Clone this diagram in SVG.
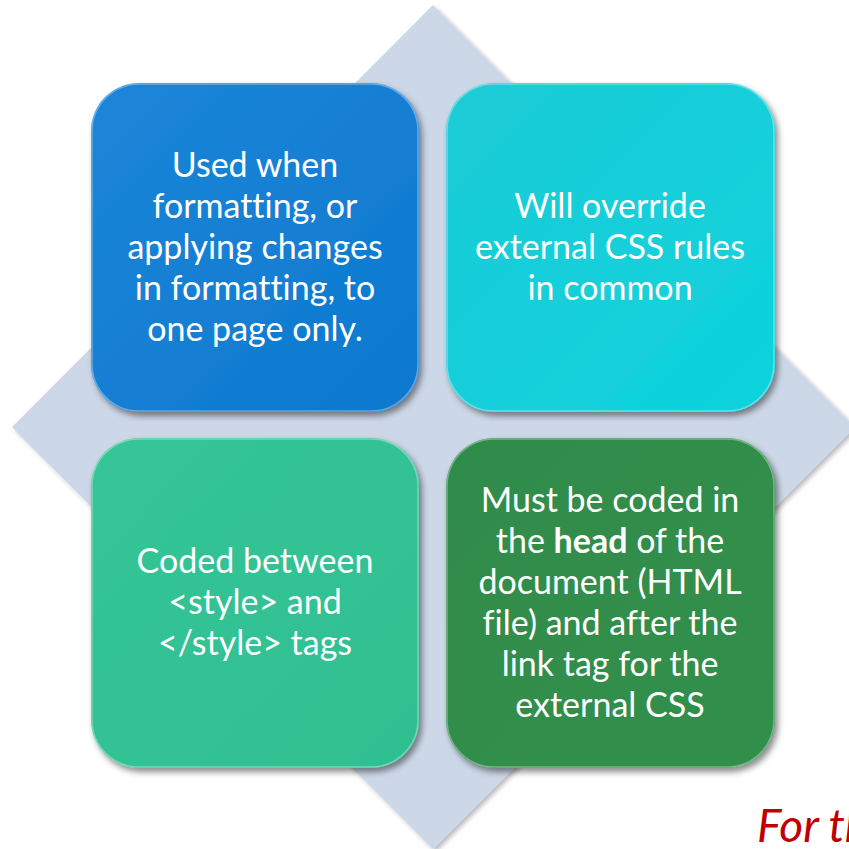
<svg xmlns="http://www.w3.org/2000/svg" width="849" height="849" viewBox="0 0 849 849">
<style>
.t{font-family:Lato,"Open Sans",sans-serif;font-size:34px;fill:#fff;text-anchor:middle;font-variant-ligatures:none}
.b{font-weight:bold}
.box{filter:url(#sh)}
.bev{fill:none;stroke:#ffffff;stroke-opacity:0.35;stroke-width:1.5}
</style>
<defs>
<filter id="sh" x="-10%" y="-10%" width="125%" height="125%">
<feDropShadow dx="3" dy="4" stdDeviation="3" flood-color="#000" flood-opacity="0.45"/>
</filter>
<filter id="dsh" x="-5%" y="-5%" width="110%" height="110%">
<feDropShadow dx="3" dy="3" stdDeviation="2" flood-color="#000" flood-opacity="0.25"/>
</filter>
<linearGradient id="g1" x1="0" y1="0" x2="1" y2="1"><stop offset="0" stop-color="#1d86d8"/><stop offset="1" stop-color="#0b78cf"/></linearGradient>
<linearGradient id="g2" x1="0" y1="0" x2="1" y2="1"><stop offset="0" stop-color="#1ccbd6"/><stop offset="1" stop-color="#0ed3dd"/></linearGradient>
<linearGradient id="g3" x1="0" y1="0" x2="1" y2="1"><stop offset="0" stop-color="#35c596"/><stop offset="1" stop-color="#2fbf90"/></linearGradient>
<linearGradient id="g4" x1="0" y1="0" x2="1" y2="1"><stop offset="0" stop-color="#2f8c4b"/><stop offset="1" stop-color="#338f4c"/></linearGradient>
</defs>
<rect width="849" height="849" fill="#ffffff"/>
<polygon points="433,5 855,427 433,849 12,427" fill="#ccd7e8" filter="url(#dsh)"/>
<g id="node-tl">
<rect class="box" x="91" y="83" width="328" height="329" rx="48" fill="url(#g1)"/>
<rect class="bev" x="92" y="84" width="326" height="327" rx="47"/>
<text class="t" x="255" y="177">Used when</text>
<text class="t" x="255" y="218">formatting, or</text>
<text class="t" x="255" y="259">applying changes</text>
<text class="t" x="255" y="300">in formatting, to</text>
<text class="t" x="255" y="341">one page only.</text>
</g>
<g id="node-tr">
<rect class="box" x="446" y="83" width="329" height="329" rx="48" fill="url(#g2)"/>
<rect class="bev" x="447" y="84" width="327" height="327" rx="47"/>
<text class="t" x="610" y="218">Will override</text>
<text class="t" x="610" y="259">external CSS rules</text>
<text class="t" x="610" y="300">in common</text>
</g>
<g id="node-bl">
<rect class="box" x="91" y="438" width="328" height="330" rx="48" fill="url(#g3)"/>
<rect class="bev" x="92" y="439" width="326" height="328" rx="47"/>
<text class="t" x="255" y="573">Coded between</text>
<text class="t" x="255" y="614">&lt;style&gt; and</text>
<text class="t" x="255" y="655">&lt;/style&gt; tags</text>
</g>
<g id="node-br">
<rect class="box" x="446" y="438" width="329" height="330" rx="48" fill="url(#g4)"/>
<rect class="bev" x="447" y="439" width="327" height="328" rx="47"/>
<text class="t" x="610" y="512">Must be coded in</text>
<text class="t" x="610" y="553">the <tspan class="b">head</tspan> of the</text>
<text class="t" x="610" y="594">document (HTML</text>
<text class="t" x="610" y="635">file) and after the</text>
<text class="t" x="610" y="676">link tag for the</text>
<text class="t" x="610" y="717">external CSS</text>
</g>
<g id="connectors"></g>
<text x="757" y="842" font-family="Lato,'Open Sans',sans-serif" font-style="italic" font-size="46" fill="#c00000">For th</text>
</svg>
